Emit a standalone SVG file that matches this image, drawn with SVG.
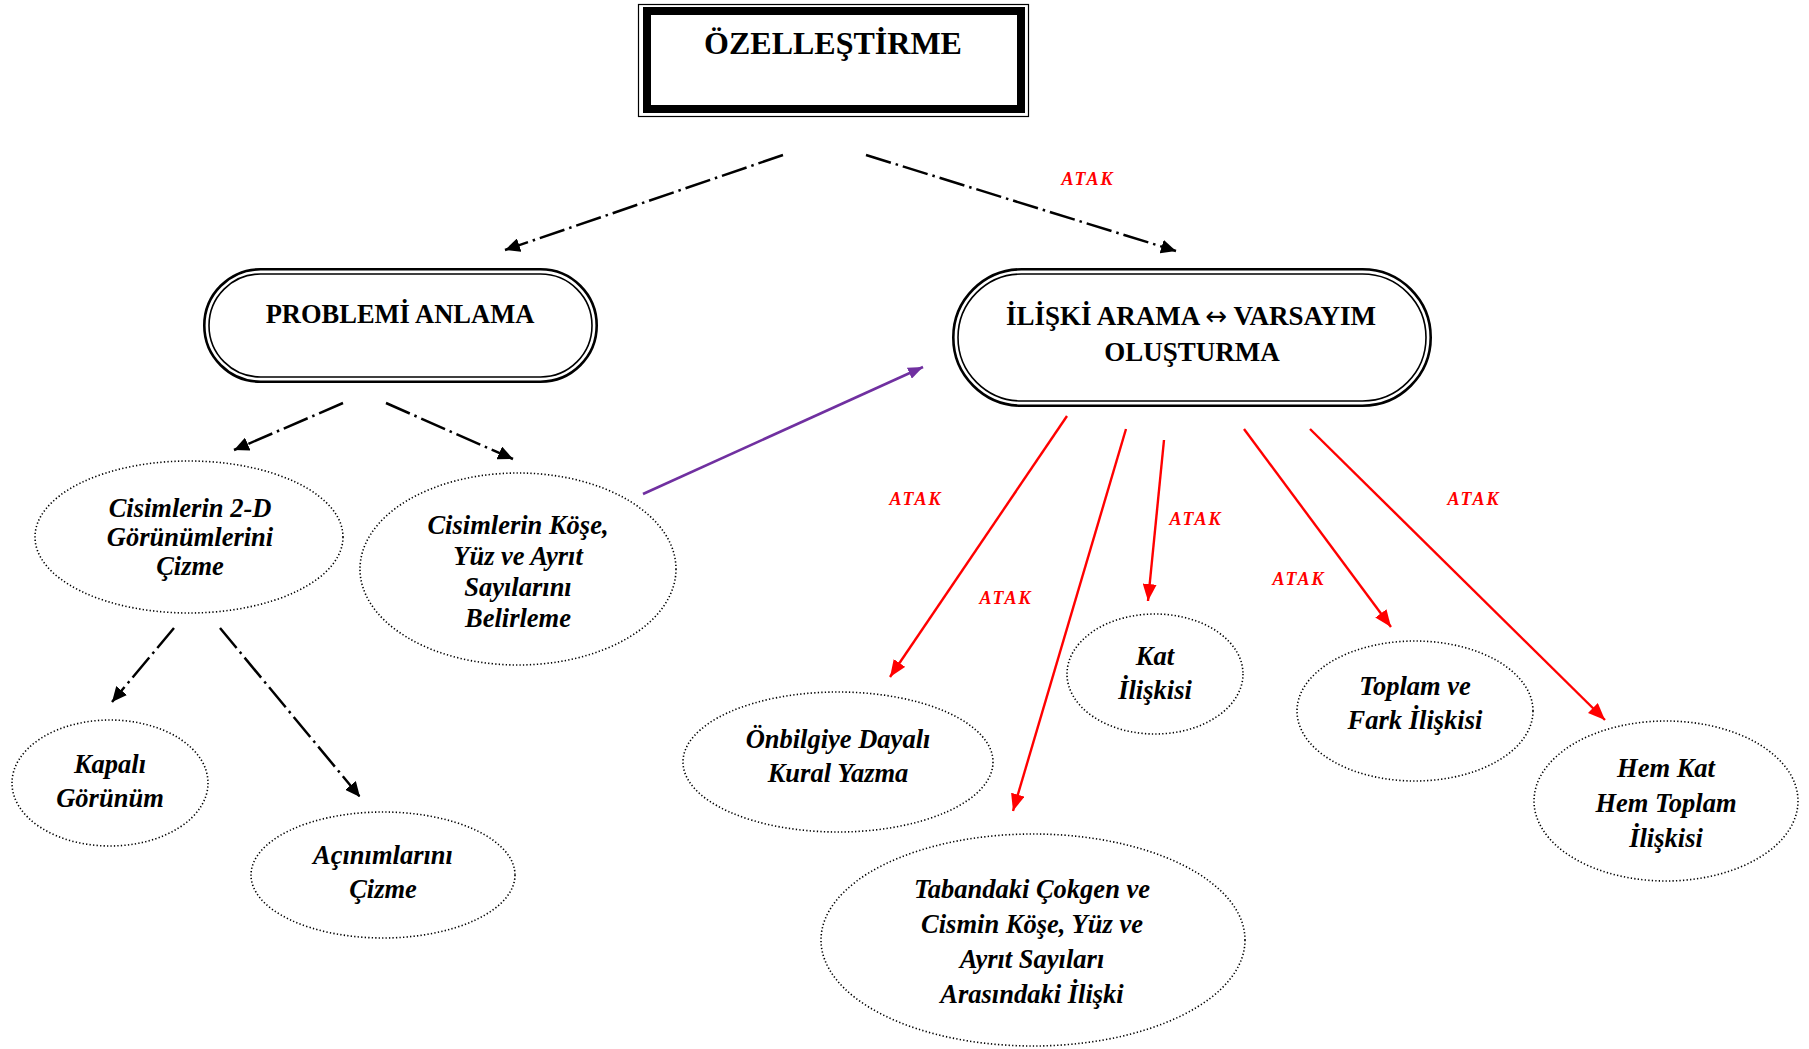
<svg xmlns="http://www.w3.org/2000/svg" width="1809" height="1049" viewBox="0 0 1809 1049">
  <style>
    .bg { fill: #ffffff; }
    .title { font-family: "Liberation Serif", "Times New Roman", serif; font-weight: bold; fill: #000; text-anchor: middle; }
    .arrowglyph { font-family: "DejaVu Sans", sans-serif; font-weight: normal; }
    .lbl { font-family: "Liberation Serif", "Times New Roman", serif; font-weight: bold; font-style: italic; font-size: 26.5px; fill: #000; text-anchor: middle; }
    .atak { font-family: "Liberation Serif", "Times New Roman", serif; font-weight: bold; font-style: italic; font-size: 18px; fill: #ff0000; text-anchor: middle; letter-spacing: 2px; }
    .oval { fill: #ffffff; stroke: #000; stroke-width: 1.6; stroke-dasharray: 1.3 2.2; }
    .outer { fill: #ffffff; stroke: #000; stroke-width: 2.6; }
    .inner { fill: none; stroke: #000; stroke-width: 1.6; }
    .dd { fill: none; stroke: #000; stroke-width: 2.5; stroke-dasharray: 26 5 2.5 5; marker-end: url(#headBlack); }
    .red { fill: none; stroke: #ff0000; stroke-width: 2.4; marker-end: url(#headRed); }
    .purple { fill: none; stroke: #7030a0; stroke-width: 2.6; marker-end: url(#headPurple); }
  </style>
  <defs>
    <marker id="headBlack" markerUnits="userSpaceOnUse" markerWidth="16" markerHeight="14" refX="15" refY="7" orient="auto">
      <path d="M0,0 L15,7 L0,14 z" fill="#000"/>
    </marker>
    <marker id="headRed" markerUnits="userSpaceOnUse" markerWidth="18" markerHeight="14" refX="17" refY="7" orient="auto">
      <path d="M0,0 L17,7 L0,14 z" fill="#ff0000"/>
    </marker>
    <marker id="headPurple" markerUnits="userSpaceOnUse" markerWidth="16" markerHeight="12" refX="15" refY="6" orient="auto">
      <path d="M0,0 L15,6 L0,12 z" fill="#7030a0"/>
    </marker>
  </defs>

  <rect class="bg" x="0" y="0" width="1809" height="1049"/>

  <!-- connectors -->
  <g id="connectors">
    <line class="dd" x1="783" y1="155" x2="505" y2="250"/>
    <line class="dd" x1="866" y1="155" x2="1176" y2="251"/>
    <line class="dd" x1="343" y1="403" x2="234" y2="450"/>
    <line class="dd" x1="386" y1="403" x2="513" y2="459"/>
    <line class="dd" x1="174" y1="628" x2="112" y2="702"/>
    <line class="dd" x1="220" y1="628" x2="360" y2="797"/>
    <line class="purple" x1="643" y1="494" x2="923" y2="367"/>
    <line class="red" x1="1067" y1="416" x2="890" y2="677"/>
    <line class="red" x1="1126" y1="429" x2="1013" y2="811"/>
    <line class="red" x1="1164" y1="440" x2="1148" y2="601"/>
    <line class="red" x1="1244" y1="429" x2="1391" y2="627"/>
    <line class="red" x1="1310" y1="429" x2="1605" y2="720"/>
    <g id="edge-labels">
      <text class="atak" x="1088" y="185">ATAK</text>
      <text class="atak" x="916" y="505">ATAK</text>
      <text class="atak" x="1006" y="604">ATAK</text>
      <text class="atak" x="1196" y="525">ATAK</text>
      <text class="atak" x="1299" y="585">ATAK</text>
      <text class="atak" x="1474" y="505">ATAK</text>
    </g>
  </g>

  <!-- root box with double frame -->
  <g id="ozellestirme">
    <rect x="638.5" y="4.5" width="390" height="112" fill="#fff" stroke="#000" stroke-width="1.2"/>
    <rect x="647" y="11" width="374" height="98" fill="#fff" stroke="#000" stroke-width="8"/>
    <text class="title" x="833" y="54" font-size="32">ÖZELLEŞTİRME</text>
  </g>

  <g id="problemi-anlama">
    <rect class="outer" x="204.3" y="269.3" width="392.4" height="112.4" rx="56.2"/>
    <rect class="inner" x="209" y="274" width="383" height="103" rx="51.5"/>
    <text class="title" x="400" y="323" font-size="26.5">PROBLEMİ ANLAMA</text>
  </g>

  <g id="iliski-arama">
    <rect class="outer" x="953.3" y="269.3" width="477.4" height="136.4" rx="68.2"/>
    <rect class="inner" x="958" y="274" width="468" height="127" rx="63.5"/>
    <text class="title" x="1191" y="325" font-size="27">İLİŞKİ ARAMA <tspan class="arrowglyph" font-size="26">↔</tspan> VARSAYIM</text>
    <text class="title" x="1192" y="361" font-size="27">OLUŞTURMA</text>
  </g>

  <g id="gorunum-cizme">
    <ellipse class="oval" cx="189" cy="537" rx="154" ry="76"/>
    <text class="lbl" x="190" y="517">Cisimlerin 2-D</text>
    <text class="lbl" x="190" y="546">Görünümlerini</text>
    <text class="lbl" x="190" y="575">Çizme</text>
  </g>

  <g id="kose-yuz-ayrit">
    <ellipse class="oval" cx="518" cy="569" rx="158" ry="96"/>
    <text class="lbl" x="518" y="534">Cisimlerin Köşe,</text>
    <text class="lbl" x="518" y="565">Yüz ve Ayrıt</text>
    <text class="lbl" x="518" y="596">Sayılarını</text>
    <text class="lbl" x="518" y="627">Belirleme</text>
  </g>

  <g id="kapali-gorunum">
    <ellipse class="oval" cx="110" cy="783" rx="98" ry="63"/>
    <text class="lbl" x="110" y="773">Kapalı</text>
    <text class="lbl" x="110" y="807">Görünüm</text>
  </g>

  <g id="acinimlari-cizme">
    <ellipse class="oval" cx="383" cy="875" rx="132" ry="63"/>
    <text class="lbl" x="383" y="864">Açınımlarını</text>
    <text class="lbl" x="383" y="898">Çizme</text>
  </g>

  <g id="onbilgiye-dayali">
    <ellipse class="oval" cx="838" cy="762" rx="155" ry="70"/>
    <text class="lbl" x="838" y="748">Önbilgiye Dayalı</text>
    <text class="lbl" x="838" y="782">Kural Yazma</text>
  </g>

  <g id="tabandaki-cokgen">
    <ellipse class="oval" cx="1033" cy="940" rx="212" ry="106"/>
    <text class="lbl" x="1032" y="898">Tabandaki Çokgen ve</text>
    <text class="lbl" x="1032" y="933">Cismin Köşe, Yüz ve</text>
    <text class="lbl" x="1032" y="968">Ayrıt Sayıları</text>
    <text class="lbl" x="1032" y="1003">Arasındaki İlişki</text>
  </g>

  <g id="kat-iliskisi">
    <ellipse class="oval" cx="1155" cy="674" rx="88" ry="60"/>
    <text class="lbl" x="1155" y="665">Kat</text>
    <text class="lbl" x="1155" y="699">İlişkisi</text>
  </g>

  <g id="toplam-fark">
    <ellipse class="oval" cx="1415" cy="711" rx="118" ry="70"/>
    <text class="lbl" x="1415" y="695">Toplam ve</text>
    <text class="lbl" x="1415" y="729">Fark İlişkisi</text>
  </g>

  <g id="hem-kat-hem-toplam">
    <ellipse class="oval" cx="1666" cy="801" rx="132" ry="80"/>
    <text class="lbl" x="1666" y="777">Hem Kat</text>
    <text class="lbl" x="1666" y="812">Hem Toplam</text>
    <text class="lbl" x="1666" y="847">İlişkisi</text>
  </g>
</svg>
